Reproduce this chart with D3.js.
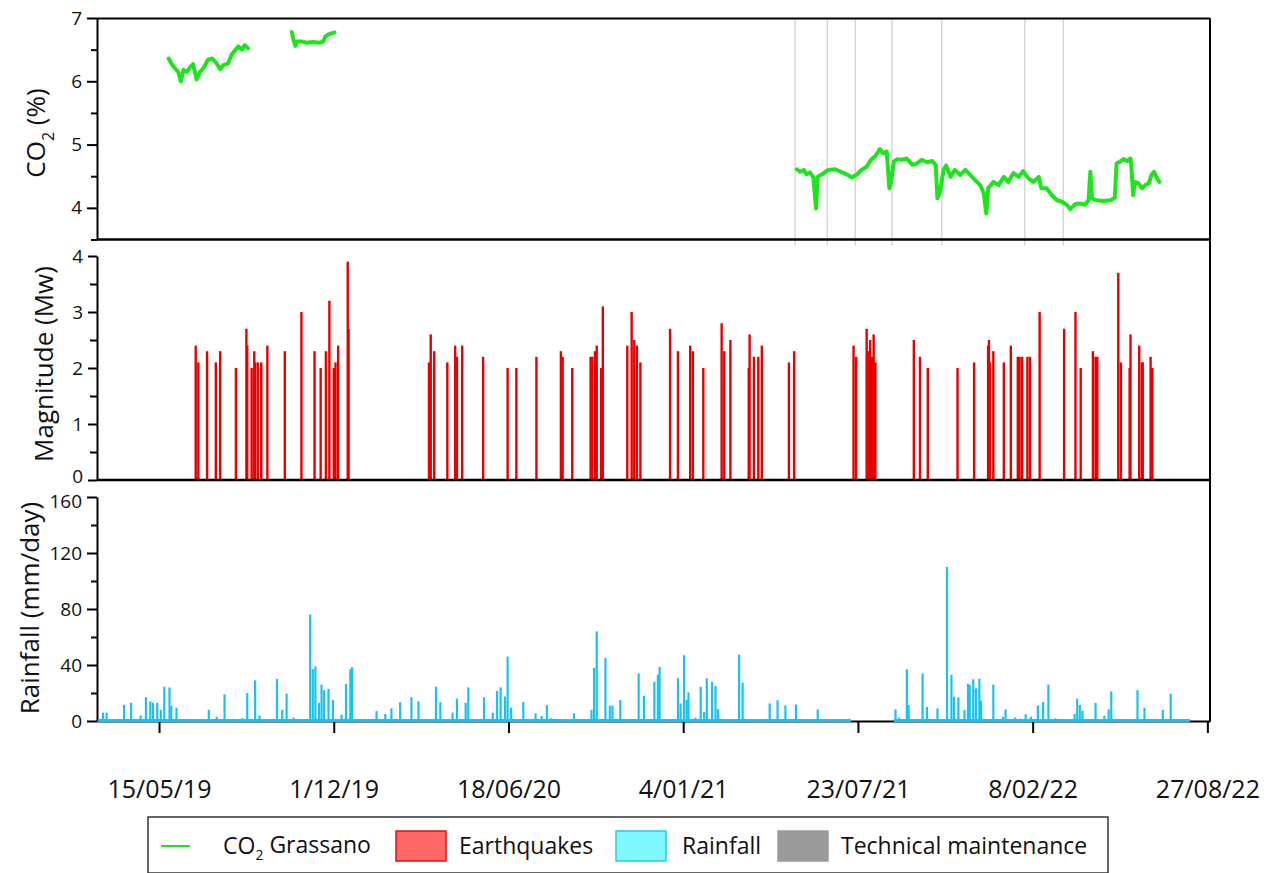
<!DOCTYPE html>
<html>
<head>
<meta charset="utf-8">
<script src="https://cdn.jsdelivr.net/npm/d3@7/dist/d3.min.js"></script>
<style>
  body { margin: 0; background: #fff; }
  svg text { font-family: "Open Sans", sans-serif; fill: #111; }
</style>
</head>
<body>
<script>
// values (dates as yyyy-mm-dd)

// CO2 Grassano (%), three recorded stretches
const co2Early = [
  ["2019-05-26", 6.36], ["2019-05-30", 6.26], ["2019-06-02", 6.21], ["2019-06-06", 6.15],
  ["2019-06-09", 6.00], ["2019-06-12", 6.18], ["2019-06-16", 6.15], ["2019-06-20", 6.23],
  ["2019-06-23", 6.27], ["2019-06-27", 6.03], ["2019-07-01", 6.15], ["2019-07-05", 6.21],
  ["2019-07-10", 6.34], ["2019-07-15", 6.36], ["2019-07-20", 6.28], ["2019-07-24", 6.19],
  ["2019-07-28", 6.26], ["2019-08-02", 6.28], ["2019-08-06", 6.42], ["2019-08-10", 6.49],
  ["2019-08-14", 6.55], ["2019-08-18", 6.50], ["2019-08-21", 6.57], ["2019-08-25", 6.52]
];
const co2Autumn = [
  ["2019-10-14", 6.78], ["2019-10-16", 6.65], ["2019-10-18", 6.56], ["2019-10-20", 6.63],
  ["2019-10-25", 6.63], ["2019-10-31", 6.61], ["2019-11-07", 6.62], ["2019-11-15", 6.61],
  ["2019-11-19", 6.63], ["2019-11-21", 6.70], ["2019-11-25", 6.74], ["2019-11-29", 6.76],
  ["2019-12-02", 6.77]
];
const co2Late = [
  ["2021-05-14", 4.61], ["2021-05-18", 4.57], ["2021-05-22", 4.60], ["2021-05-25", 4.53],
  ["2021-05-29", 4.56], ["2021-06-02", 4.48], ["2021-06-05", 3.99], ["2021-06-07", 4.49],
  ["2021-06-12", 4.53], ["2021-06-19", 4.60], ["2021-06-27", 4.61], ["2021-07-05", 4.56],
  ["2021-07-10", 4.53], ["2021-07-16", 4.48], ["2021-07-22", 4.53], ["2021-07-27", 4.60],
  ["2021-08-02", 4.65], ["2021-08-07", 4.76], ["2021-08-12", 4.82], ["2021-08-17", 4.93],
  ["2021-08-21", 4.86], ["2021-08-25", 4.89], ["2021-08-28", 4.31], ["2021-08-30", 4.41],
  ["2021-09-02", 4.73], ["2021-09-06", 4.77], ["2021-09-11", 4.76], ["2021-09-17", 4.78],
  ["2021-09-23", 4.68], ["2021-09-28", 4.70], ["2021-10-04", 4.76], ["2021-10-10", 4.72],
  ["2021-10-16", 4.74], ["2021-10-20", 4.68], ["2021-10-22", 4.15], ["2021-10-25", 4.26],
  ["2021-10-29", 4.60], ["2021-11-01", 4.67], ["2021-11-06", 4.49], ["2021-11-11", 4.60],
  ["2021-11-17", 4.52], ["2021-11-23", 4.60], ["2021-11-28", 4.53], ["2021-12-04", 4.44],
  ["2021-12-10", 4.36], ["2021-12-14", 4.23], ["2021-12-17", 3.91], ["2021-12-19", 4.31],
  ["2021-12-25", 4.41], ["2021-12-31", 4.36], ["2022-01-06", 4.49], ["2022-01-11", 4.41],
  ["2022-01-17", 4.55], ["2022-01-23", 4.49], ["2022-01-28", 4.58], ["2022-02-03", 4.47],
  ["2022-02-09", 4.41], ["2022-02-15", 4.49], ["2022-02-18", 4.31], ["2022-02-24", 4.31],
  ["2022-03-02", 4.20], ["2022-03-08", 4.12], ["2022-03-13", 4.10], ["2022-03-19", 4.05],
  ["2022-03-23", 3.98], ["2022-03-29", 4.06], ["2022-04-03", 4.07], ["2022-04-09", 4.05],
  ["2022-04-13", 4.12], ["2022-04-15", 4.57], ["2022-04-17", 4.15], ["2022-04-22", 4.12],
  ["2022-04-30", 4.11], ["2022-05-08", 4.12], ["2022-05-13", 4.16], ["2022-05-15", 4.70],
  ["2022-05-19", 4.73], ["2022-05-23", 4.77], ["2022-05-27", 4.74], ["2022-05-31", 4.78],
  ["2022-06-01", 4.65], ["2022-06-03", 4.20], ["2022-06-05", 4.41], ["2022-06-09", 4.39],
  ["2022-06-13", 4.31], ["2022-06-17", 4.36], ["2022-06-21", 4.39], ["2022-06-24", 4.52],
  ["2022-06-27", 4.57], ["2022-06-30", 4.48], ["2022-07-03", 4.41]
];

// technical maintenance days
const maintenance = [
  "2021-05-12", "2021-06-18", "2021-07-20", "2021-08-31", "2021-10-27", "2022-01-30", "2022-03-15"
];

// earthquakes: date, magnitude (Mw)
const quakes = [
  ["2019-06-26", 2.4], ["2019-06-29", 2.1], ["2019-07-09", 2.3], ["2019-07-19", 2.1],
  ["2019-07-24", 2.3], ["2019-08-11", 2.0], ["2019-08-23", 2.7], ["2019-08-24", 2.4],
  ["2019-08-29", 2.0], ["2019-09-01", 2.3], ["2019-09-02", 2.1], ["2019-09-05", 2.1],
  ["2019-09-09", 2.1], ["2019-09-16", 2.4], ["2019-10-06", 2.3], ["2019-10-25", 3.0],
  ["2019-11-09", 2.3], ["2019-11-16", 2.0], ["2019-11-22", 2.3], ["2019-11-26", 3.2],
  ["2019-12-01", 2.0], ["2019-12-03", 2.1], ["2019-12-06", 2.4], ["2019-12-17", 3.9],
  ["2019-12-18", 2.7], ["2020-03-19", 2.1], ["2020-03-20", 2.0], ["2020-03-21", 2.6],
  ["2020-03-25", 2.3], ["2020-04-09", 2.1], ["2020-04-18", 2.4], ["2020-04-20", 2.2],
  ["2020-04-26", 2.4], ["2020-05-20", 2.2], ["2020-06-17", 2.0], ["2020-06-27", 2.0],
  ["2020-07-20", 2.2], ["2020-08-17", 2.3], ["2020-08-19", 2.2], ["2020-08-30", 2.0],
  ["2020-09-20", 2.2], ["2020-09-22", 2.2], ["2020-09-25", 2.3], ["2020-09-27", 2.4],
  ["2020-10-02", 2.0], ["2020-10-04", 3.1], ["2020-11-01", 2.4], ["2020-11-06", 3.0],
  ["2020-11-09", 2.5], ["2020-11-12", 2.4], ["2020-11-16", 2.1], ["2020-12-20", 2.7],
  ["2020-12-29", 2.3], ["2021-01-12", 2.4], ["2021-01-15", 2.3], ["2021-01-27", 2.0],
  ["2021-02-17", 2.8], ["2021-02-20", 2.3], ["2021-02-27", 2.5], ["2021-03-20", 2.0],
  ["2021-03-21", 2.6], ["2021-03-26", 2.2], ["2021-03-31", 2.2], ["2021-04-04", 2.4],
  ["2021-05-05", 2.1], ["2021-05-11", 2.3], ["2021-07-18", 2.4], ["2021-07-21", 2.2],
  ["2021-08-02", 2.7], ["2021-08-04", 2.3], ["2021-08-06", 2.5], ["2021-08-08", 2.2],
  ["2021-08-10", 2.6], ["2021-08-12", 2.1], ["2021-09-25", 2.5], ["2021-10-02", 2.2],
  ["2021-10-11", 2.0], ["2021-11-14", 2.0], ["2021-12-03", 2.1], ["2021-12-19", 2.4],
  ["2021-12-20", 2.5], ["2021-12-21", 2.1], ["2021-12-25", 2.3], ["2022-01-06", 2.1],
  ["2022-01-14", 2.4], ["2022-01-22", 2.2], ["2022-01-24", 2.2], ["2022-01-27", 2.2],
  ["2022-02-02", 2.2], ["2022-02-05", 2.2], ["2022-02-16", 3.0], ["2022-03-16", 2.7],
  ["2022-03-29", 3.0], ["2022-04-04", 2.0], ["2022-04-18", 2.3], ["2022-04-21", 2.2],
  ["2022-04-23", 2.2], ["2022-05-17", 3.7], ["2022-05-20", 2.1], ["2022-05-30", 2.0],
  ["2022-05-31", 2.6], ["2022-06-10", 2.4], ["2022-06-13", 2.1], ["2022-06-14", 2.1],
  ["2022-06-23", 2.2], ["2022-06-25", 2.0]
];

// rainfall: rainy days (mm/day); the gauge reads 0 on the other days of the recorded periods
const rainPeriods = [["2019-03-06", "2021-07-15"], ["2021-09-02", "2022-08-07"]];
const rain = [
  ["2019-03-12", 6], ["2019-03-16", 6], ["2019-04-05", 11.5], ["2019-04-13", 13],
  ["2019-04-24", 4], ["2019-04-30", 17], ["2019-05-05", 14], ["2019-05-08", 13],
  ["2019-05-13", 13], ["2019-05-17", 8], ["2019-05-21", 24.5], ["2019-05-27", 24],
  ["2019-05-29", 11], ["2019-06-04", 9.5], ["2019-07-11", 8], ["2019-07-20", 3],
  ["2019-07-29", 19], ["2019-08-18", 2], ["2019-08-24", 20], ["2019-09-02", 29],
  ["2019-09-07", 4], ["2019-09-27", 30], ["2019-10-03", 8], ["2019-10-08", 19.5],
  ["2019-10-16", 2.5], ["2019-11-04", 76], ["2019-11-07", 37], ["2019-11-10", 39],
  ["2019-11-14", 13], ["2019-11-17", 26], ["2019-11-20", 22], ["2019-11-25", 23],
  ["2019-11-30", 15], ["2019-12-10", 4.5], ["2019-12-15", 26.5], ["2019-12-20", 37],
  ["2019-12-22", 38.5], ["2020-01-19", 7], ["2020-01-29", 5], ["2020-02-05", 9],
  ["2020-02-15", 13.5], ["2020-02-28", 17], ["2020-03-07", 14], ["2020-03-27", 24.5],
  ["2020-04-01", 13.5], ["2020-04-15", 6], ["2020-04-20", 16], ["2020-04-30", 13],
  ["2020-05-03", 24], ["2020-05-21", 17], ["2020-05-31", 6], ["2020-06-05", 21.5],
  ["2020-06-09", 24], ["2020-06-14", 17.5], ["2020-06-17", 46], ["2020-06-21", 9.5],
  ["2020-07-05", 13.5], ["2020-07-19", 5.5], ["2020-07-26", 3.5], ["2020-08-01", 11.3],
  ["2020-08-06", 2], ["2020-09-01", 5.5], ["2020-09-21", 8], ["2020-09-24", 38],
  ["2020-09-27", 64], ["2020-10-07", 45], ["2020-10-12", 11], ["2020-10-15", 11],
  ["2020-10-24", 15], ["2020-11-14", 34], ["2020-11-20", 18], ["2020-12-02", 28],
  ["2020-12-06", 33], ["2020-12-08", 38.5], ["2020-12-29", 30.5], ["2021-01-01", 12.6],
  ["2021-01-05", 47], ["2021-01-08", 15], ["2021-01-10", 20.5], ["2021-01-18", 2.4],
  ["2021-01-24", 24.5], ["2021-01-28", 6.4], ["2021-01-31", 30.5], ["2021-02-06", 28],
  ["2021-02-10", 25], ["2021-02-13", 8.6], ["2021-03-09", 47.4], ["2021-03-13", 27.4],
  ["2021-03-24", 1.2], ["2021-04-07", 1.2], ["2021-04-13", 12.6], ["2021-04-22", 14.8],
  ["2021-05-01", 11.2], ["2021-05-13", 11.7], ["2021-06-07", 8.3], ["2021-06-15", 1],
  ["2021-09-04", 8.3], ["2021-09-08", 2.4], ["2021-09-17", 37], ["2021-09-19", 11.4],
  ["2021-10-05", 34], ["2021-10-10", 10], ["2021-10-22", 9], ["2021-11-02", 110],
  ["2021-11-07", 33], ["2021-11-10", 17.4], ["2021-11-15", 17], ["2021-11-22", 7.9],
  ["2021-11-26", 26.7], ["2021-11-28", 25.7], ["2021-12-02", 29.8], ["2021-12-05", 23.3],
  ["2021-12-09", 30.2], ["2021-12-11", 14.5], ["2021-12-25", 26], ["2022-01-05", 3],
  ["2022-01-08", 8.3], ["2022-01-19", 2.6], ["2022-01-25", 1.7], ["2022-01-31", 4.8],
  ["2022-02-06", 3], ["2022-02-14", 11], ["2022-02-20", 13.6], ["2022-02-26", 26],
  ["2022-03-06", 1.9], ["2022-03-28", 5], ["2022-03-31", 16], ["2022-04-03", 11.4],
  ["2022-04-06", 7.4], ["2022-04-21", 12.9], ["2022-05-01", 3.8], ["2022-05-06", 8.3],
  ["2022-05-09", 21.2], ["2022-06-08", 22], ["2022-06-16", 9.5], ["2022-07-07", 8],
  ["2022-07-16", 19.5]
];

const xTicks = ["2019-05-15", "2019-12-01", "2020-06-18", "2021-01-04", "2021-07-23", "2022-02-08", "2022-08-27"];
const xDomain = ["2019-03-05", "2022-08-30"];

const co2Ticks = [4, 5, 6, 7];
const co2Minor = [3.5, 4.5, 5.5, 6.5];
const magTicks = [0, 1, 2, 3, 4];
const magMinor = [0.5, 1.5, 2.5, 3.5];
const rainTicks = [0, 40, 80, 120, 160];
const rainMinor = [20, 60, 100, 140];

const legendItems = ["Grassano", "Earthquakes", "Rainfall", "Technical maintenance"];

// ---------------------------------------------------------------

const parse = d3.timeParse("%Y-%m-%d");
const fmt = d3.timeFormat("%-d/%m/%y");

const W = 1274, H = 873;
const left = 97, right = 1210;

const GREEN = "#1be61b", RED = "#e60000", CYAN = "#19c3ec";

const svg = d3.select("body").append("svg")
  .attr("width", W)
  .attr("height", H);

const x = d3.scaleTime()
  .domain(xDomain.map(parse))
  .range([left, right]);

const yCo2 = d3.scaleLinear().domain([3.5, 7]).range([239.5, 18]);
const yMag = d3.scaleLinear().domain([0, 4]).range([480, 256]);
const yRain = d3.scaleLinear().domain([0, 160]).range([721, 497]);

// maintenance markers
svg.append("g").selectAll("line")
  .data(maintenance)
  .enter().append("line")
  .attr("x1", d => x(parse(d)))
  .attr("x2", d => x(parse(d)))
  .attr("y1", yCo2.range()[1])
  .attr("y2", yCo2.range()[0] + 6)
  .attr("stroke", "#d4d4d4")
  .attr("stroke-width", 1.4);

// CO2 line
const co2Line = d3.line()
  .x(d => x(parse(d[0])))
  .y(d => yCo2(d[1]))
  .curve(d3.curveLinear);

svg.append("g").selectAll("path")
  .data([co2Early, co2Autumn, co2Late])
  .enter().append("path")
  .attr("d", co2Line)
  .attr("fill", "none")
  .attr("stroke", GREEN)
  .attr("stroke-width", 4)
  .attr("stroke-linejoin", "round")
  .attr("stroke-linecap", "round");

// earthquakes
svg.append("g").selectAll("rect")
  .data(quakes)
  .enter().append("rect")
  .attr("x", d => x(parse(d[0])) - 1.2)
  .attr("width", 2.4)
  .attr("y", d => yMag(d[1]))
  .attr("height", d => yMag(0) - yMag(d[1]))
  .attr("fill", RED);

// rainfall spikes
svg.append("g").selectAll("rect")
  .data(rain)
  .enter().append("rect")
  .attr("x", d => x(parse(d[0])) - 1.1)
  .attr("width", 2.2)
  .attr("y", d => yRain(d[1]))
  .attr("height", d => yRain(0) - yRain(d[1]))
  .attr("fill", CYAN);

// ---- axes ----
function styleAxis(g) {
  g.select(".domain").attr("stroke", "#000").attr("stroke-width", 2);
  g.selectAll(".tick line").attr("stroke", "#000").attr("stroke-width", 2);
  g.selectAll(".tick text").attr("font-size", 19).attr("fill", "#111");
}

function leftAxis(scale, major, minor, majorSize, minorSize) {
  svg.append("g")
    .attr("transform", "translate(" + left + ",0)")
    .call(d3.axisLeft(scale).tickValues(minor).tickSize(minorSize).tickFormat(""))
    .call(g => g.select(".domain").remove())
    .call(styleAxis);
  return svg.append("g")
    .attr("transform", "translate(" + left + ",0)")
    .call(d3.axisLeft(scale).tickValues(major).tickSize(majorSize).tickSizeOuter(0).tickPadding(5)
      .tickFormat(d3.format("d")))
    .call(styleAxis);
}

leftAxis(yCo2, co2Ticks, co2Minor, 10, 6);
const magAxis = leftAxis(yMag, magTicks, magMinor, 9, 7);
const rainAxis = leftAxis(yRain, rainTicks, rainMinor, 10, 6);
// the "0" of magnitude and "160" of rainfall sit close together
magAxis.selectAll(".tick text").filter(d => d === 0).attr("dy", "0.12em");
rainAxis.selectAll(".tick text").filter(d => d === 160).attr("dy", "0.55em");

// frame lines
const frame = svg.append("g").attr("stroke", "#000").attr("fill", "none");
frame.append("line").attr("x1", left).attr("x2", right).attr("y1", 18.5).attr("y2", 18.5).attr("stroke-width", 2);
frame.append("line").attr("x1", right).attr("x2", right).attr("y1", 18).attr("y2", yRain(0)).attr("stroke-width", 2);
frame.append("line").attr("x1", left).attr("x2", right).attr("y1", 239.5).attr("y2", 239.5).attr("stroke-width", 2.5);
frame.append("line").attr("x1", left).attr("x2", right).attr("y1", yMag(0)).attr("y2", yMag(0)).attr("stroke-width", 2.5);

// time axis
const xAxis = svg.append("g")
  .attr("transform", "translate(0," + yRain(0) + ")")
  .call(d3.axisBottom(x)
    .tickValues(xTicks.map(parse))
    .tickSize(12)
    .tickSizeOuter(0)
    .tickPadding(47)
    .tickFormat(fmt))
  .call(styleAxis);
xAxis.selectAll(".tick text").attr("font-size", 25);

// rain gauge baseline over the recorded periods
svg.append("g").selectAll("line")
  .data(rainPeriods)
  .enter().append("line")
  .attr("x1", d => x(parse(d[0])))
  .attr("x2", d => x(parse(d[1])))
  .attr("y1", yRain(0) - 0.5)
  .attr("y2", yRain(0) - 0.5)
  .attr("stroke", CYAN)
  .attr("stroke-width", 3);

// ---- axis titles ----
function yTitle(cx, cy) {
  return svg.append("text")
    .attr("transform", "translate(" + cx + "," + cy + ") rotate(-90)")
    .attr("text-anchor", "middle")
    .attr("dy", "0.35em")
    .attr("font-size", 26);
}

const co2Title = yTitle(36, 133);
co2Title.append("tspan").text("CO");
co2Title.append("tspan").text("2").attr("font-size", 16).attr("dy", "0.55em");
co2Title.append("tspan").text(" (%)").attr("dy", "-0.35em");

yTitle(44, 364).text("Magnitude (Mw)");
yTitle(30, 608).text("Rainfall (mm/day)");

// ---- legend ----
const lg = svg.append("g");
lg.append("rect")
  .attr("x", 148).attr("y", 817)
  .attr("width", 960).attr("height", 56)
  .attr("fill", "#fff").attr("stroke", "#333").attr("stroke-width", 1.5);

const ly = 846;
lg.append("line")
  .attr("x1", 161).attr("x2", 190).attr("y1", ly).attr("y2", ly)
  .attr("stroke", GREEN).attr("stroke-width", 2);
const t0 = lg.append("text").attr("x", 223).attr("y", ly).attr("dy", "0.35em").attr("font-size", 23);
t0.append("tspan").text("CO");
t0.append("tspan").text("2").attr("font-size", 14).attr("dy", "0.45em");
t0.append("tspan").text(" " + legendItems[0]).attr("dy", "-0.3em");

const swatches = [
  { x: 396, fill: "#ff6666", stroke: "#d91515", tx: 459, label: legendItems[1] },
  { x: 616, fill: "#80f8ff", stroke: "#2ec8ea", tx: 682, label: legendItems[2] },
  { x: 778, fill: "#9b9b9b", stroke: "#9b9b9b", tx: 841, label: legendItems[3] }
];
swatches.forEach(s => {
  lg.append("rect")
    .attr("x", s.x).attr("y", ly - 15)
    .attr("width", 50).attr("height", 30)
    .attr("fill", s.fill).attr("stroke", s.stroke).attr("stroke-width", 1.5);
  lg.append("text")
    .attr("x", s.tx).attr("y", ly).attr("dy", "0.35em")
    .attr("font-size", 23)
    .text(s.label);
});
</script>
</body>
</html>
